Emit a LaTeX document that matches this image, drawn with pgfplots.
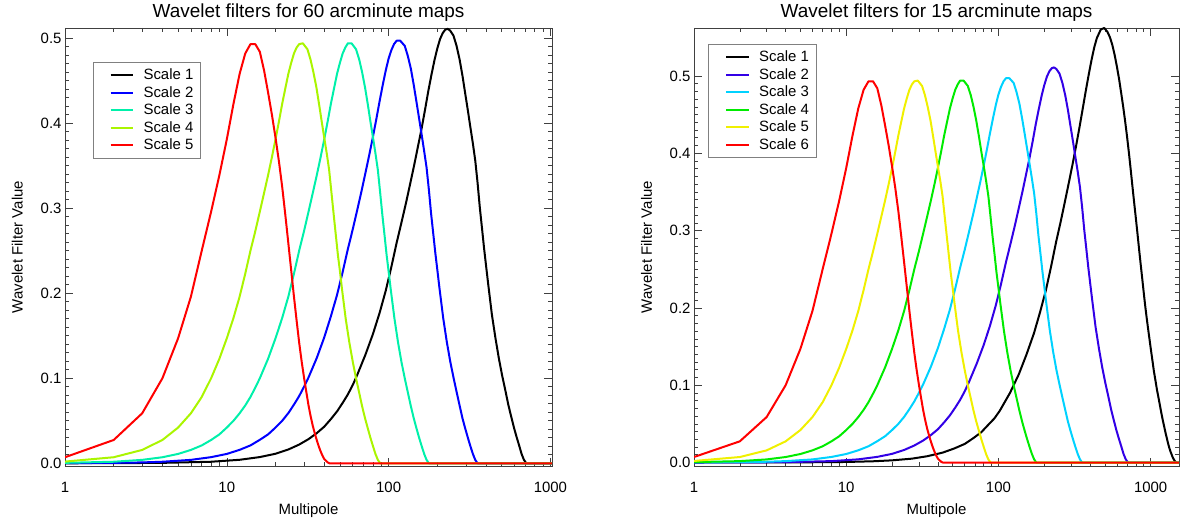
\documentclass[border=0pt]{standalone}
\usepackage{fontspec}
\setmainfont{Liberation Sans}
\usepackage{pgfplots}
\pgfplotsset{compat=1.18}
\definecolor{cthreel}{RGB}{0,240,170}
\definecolor{cfourl}{RGB}{170,245,0}
\definecolor{ctwor}{RGB}{50,0,230}
\definecolor{cthreer}{RGB}{0,210,255}
\definecolor{cfourr}{RGB}{0,235,0}
\definecolor{cfiver}{RGB}{240,240,0}
\begin{document}
\begin{tikzpicture}[x=1bp,y=1bp]
\path[use as bounding box] (0,0) rectangle (1188,524);
\begin{axis}[at={(65bp,58bp)}, anchor=south west,
    scale only axis, width=487bp, height=438bp,
    xmode=log, xmin=1, xmax=1023, ymin=-0.0032, ymax=0.512,
    xtick={1,10,100,1000}, xticklabels={1,10,100,1000},
    minor xtick={2,3,4,5,6,7,8,9,20,30,40,50,60,70,80,90,200,300,400,500,600,700,800,900},
    ytick={0,0.1,0.2,0.3,0.4,0.5}, minor y tick num=9,
    tick align=inside, major tick length=8bp, minor tick length=4bp,
    every tick/.style={black!75, line width=0.6bp},
    axis line style={black!75, line width=0.8bp},
    /pgf/number format/assume math mode=true,
    yticklabel style={/pgf/number format/.cd, fixed, fixed zerofill, precision=1},
    ticklabel style={font=\fontsize{15}{18}\selectfont},
    xticklabel style={anchor=base, yshift=-26.7bp},
    title style={at={(axis description cs:0.5,1)}, anchor=base, yshift=4.6bp, font=\fontsize{19}{22}\selectfont},
    xlabel style={at={(axis description cs:0.5,0)}, anchor=base, yshift=-49bp, font=\fontsize{15}{18}\selectfont},
    ylabel style={at={(axis description cs:-0.087,0.5)}, anchor=base, font=\fontsize{15}{18}\selectfont},
    xlabel={Multipole}, ylabel={Wavelet Filter Value},
    every axis plot/.append style={line width=2bp, line join=round},
    legend cell align=left,
    legend image code/.code={\path (0bp,0bp); \draw[#1, line width=2bp] (11.6bp,0bp) -- (34bp,0bp);},
    legend style={draw=black!50, line width=0.6bp, fill=white,
      font=\fontsize{15}{17}\selectfont, inner xsep=5bp, inner ysep=5bp, row sep=1.5bp,
      nodes={inner ysep=1.5bp, text height=11bp, text depth=2bp},
      /tikz/every odd column/.append style={column sep=7.5bp},
      at={(axis description cs:0.057,0.923)}, anchor=north west},
  title={Wavelet filters for 60 arcminute maps}]
\addplot[black] coordinates {(1,0) (2,0.0001) (4,0.0005) (8,0.0018) (12,0.0041) (16,0.0073) (20,0.0112) (24,0.0162) (28,0.0220) (32,0.0284) (36,0.0355) (40,0.043) (44,0.052) (48,0.061) (52,0.071) (56,0.081) (60,0.092) (64,0.104) (72,0.128) (80,0.152) (88,0.177) (96,0.203) (104,0.231) (112,0.259) (120,0.283) (128,0.306) (136,0.329) (144,0.351) (152,0.373) (160,0.394) (168,0.416) (176,0.438) (184,0.457) (192,0.474) (200,0.488) (208,0.499) (216,0.506) (224,0.510) (232,0.511) (240,0.509) (251.7,0.503) (263,0.491) (274.6,0.475) (286,0.456) (297.4,0.435) (308.9,0.415) (320.3,0.395) (331.8,0.376) (343.2,0.356) (354.6,0.330) (366.1,0.301) (377.5,0.277) (389,0.253) (400.4,0.232) (411.8,0.212) (434.7,0.175) (457.6,0.147) (480.5,0.123) (503.4,0.103) (526.2,0.086) (549.1,0.069) (572,0.055) (594.9,0.042) (617.8,0.031) (640.6,0.021) (663.5,0.011) (686.4,0.004) (709.3,0) (1023,0)};
\addlegendentry{Scale 1}
\addplot[blue] coordinates {(1,0.0001) (2,0.0005) (3,0.0010) (4,0.0018) (6,0.0040) (8,0.0072) (10,0.011) (12,0.0158) (14,0.021) (16,0.0276) (18,0.034) (20,0.042) (22,0.050) (24,0.059) (26,0.069) (28,0.079) (30,0.090) (32,0.101) (36,0.124) (40,0.148) (44,0.173) (48,0.198) (52,0.225) (56,0.252) (60,0.275) (64,0.298) (68,0.320) (72,0.342) (76,0.363) (80,0.384) (84,0.405) (88,0.426) (92,0.445) (96,0.462) (100,0.476) (104,0.486) (108,0.493) (112,0.497) (118,0.497) (125.8,0.491) (131.5,0.479) (137.3,0.464) (143,0.445) (148.7,0.425) (154.5,0.405) (160.2,0.386) (165.9,0.367) (171.6,0.348) (177.3,0.322) (183,0.294) (188.8,0.270) (194.5,0.247) (200.2,0.227) (205.9,0.207) (217.4,0.171) (228.8,0.143) (240.2,0.120) (251.7,0.101) (263.1,0.084) (274.6,0.068) (286,0.053) (297.4,0.041) (308.9,0.030) (320.3,0.020) (331.8,0.011) (343.2,0.004) (354.6,0) (1023,0)};
\addlegendentry{Scale 2}
\addplot[cthreel] coordinates {(1,0.0005) (2,0.0018) (3,0.0040) (4,0.0071) (5,0.011) (6,0.0157) (7,0.021) (8,0.0274) (9,0.034) (10,0.042) (11,0.050) (12,0.0588) (13,0.068) (14,0.078) (15,0.089) (16,0.100) (18,0.123) (20,0.147) (22,0.171) (24,0.196) (26,0.223) (28,0.250) (30,0.273) (32,0.296) (34,0.318) (36,0.339) (38,0.360) (40,0.381) (42,0.402) (44,0.423) (46,0.441) (48,0.458) (50,0.471) (52,0.482) (54,0.489) (56,0.494) (59,0.494) (62.9,0.487) (65.8,0.475) (68.6,0.460) (71.5,0.442) (74.4,0.422) (77.2,0.402) (80.1,0.383) (83,0.364) (85.8,0.345) (88.6,0.319) (91.5,0.292) (94.4,0.268) (97.2,0.245) (100.1,0.225) (103,0.205) (108.7,0.170) (114.4,0.142) (120.1,0.119) (125.8,0.100) (131.6,0.083) (137.3,0.067) (143,0.053) (148.7,0.041) (154.4,0.030) (160.2,0.020) (165.9,0.011) (171.6,0.004) (177.3,0) (1023,0)};
\addlegendentry{Scale 3}
\addplot[cfourl] coordinates {(1,0.0020) (2,0.0071) (3,0.0157) (4,0.0274) (5,0.042) (6,0.0588) (7,0.078) (8,0.100) (9,0.123) (10,0.147) (11,0.171) (12,0.196) (13,0.223) (14,0.250) (15,0.273) (16,0.296) (17,0.318) (18,0.339) (19,0.360) (20,0.381) (21,0.402) (22,0.423) (23,0.441) (24,0.458) (25,0.471) (26,0.482) (27,0.489) (28,0.493) (29.5,0.494) (31.5,0.487) (32.9,0.475) (34.3,0.460) (35.8,0.442) (37.2,0.422) (38.6,0.402) (40.0,0.383) (41.5,0.364) (42.9,0.345) (44.3,0.319) (45.8,0.292) (47.2,0.268) (48.6,0.245) (50.1,0.225) (51.5,0.205) (54.3,0.170) (57.2,0.142) (60.1,0.119) (62.9,0.100) (65.8,0.083) (68.6,0.067) (71.5,0.053) (74.4,0.041) (77.2,0.030) (80.1,0.020) (82.9,0.011) (85.8,0.004) (88.7,0) (1023,0)};
\addlegendentry{Scale 4}
\addplot[red] coordinates {(1,0.0071) (2,0.0274) (3,0.0588) (4,0.100) (5,0.147) (6,0.196) (7,0.250) (8,0.296) (9,0.339) (10,0.381) (11,0.423) (12,0.458) (13,0.482) (14,0.493) (15,0.493) (16,0.484) (17,0.462) (18,0.436) (19,0.410) (20,0.383) (21,0.355) (22,0.325) (23,0.292) (24,0.259) (25,0.227) (26,0.196) (27,0.168) (28,0.142) (29,0.120) (30,0.101) (31,0.084) (32,0.068) (33,0.055) (34,0.044) (35,0.035) (36,0.027) (37,0.020) (38,0.014) (39,0.009) (40,0.005) (41,0.003) (42,0.001) (43,0) (1023,0)};
\addlegendentry{Scale 5}
\end{axis}
\begin{axis}[at={(694bp,58bp)}, anchor=south west,
    scale only axis, width=485bp, height=438bp,
    xmode=log, xmin=1, xmax=1535, ymin=-0.0045, ymax=0.562,
    xtick={1,10,100,1000}, xticklabels={1,10,100,1000},
    minor xtick={2,3,4,5,6,7,8,9,20,30,40,50,60,70,80,90,200,300,400,500,600,700,800,900},
    ytick={0,0.1,0.2,0.3,0.4,0.5}, minor y tick num=9,
    tick align=inside, major tick length=8bp, minor tick length=4bp,
    every tick/.style={black!75, line width=0.6bp},
    axis line style={black!75, line width=0.8bp},
    /pgf/number format/assume math mode=true,
    yticklabel style={/pgf/number format/.cd, fixed, fixed zerofill, precision=1},
    ticklabel style={font=\fontsize{15}{18}\selectfont},
    xticklabel style={anchor=base, yshift=-26.7bp},
    title style={at={(axis description cs:0.5,1)}, anchor=base, yshift=4.6bp, font=\fontsize{19}{22}\selectfont},
    xlabel style={at={(axis description cs:0.5,0)}, anchor=base, yshift=-49bp, font=\fontsize{15}{18}\selectfont},
    ylabel style={at={(axis description cs:-0.087,0.5)}, anchor=base, font=\fontsize{15}{18}\selectfont},
    xlabel={Multipole}, ylabel={Wavelet Filter Value},
    every axis plot/.append style={line width=2bp, line join=round},
    legend cell align=left,
    legend image code/.code={\path (0bp,0bp); \draw[#1, line width=2bp] (11.6bp,0bp) -- (34bp,0bp);},
    legend style={draw=black!50, line width=0.6bp, fill=white,
      font=\fontsize{15}{17}\selectfont, inner xsep=5bp, inner ysep=5bp, row sep=1.5bp,
      nodes={inner ysep=1.5bp, text height=11bp, text depth=2bp},
      /tikz/every odd column/.append style={column sep=7.5bp},
      at={(axis description cs:0.0295,0.9635)}, anchor=north west},
  title={Wavelet filters for 15 arcminute maps}]
\addplot[black] coordinates {(1,0) (5,0.0002) (10,0.0007) (15,0.0016) (20,0.0028) (27,0.0050) (34,0.0081) (43,0.0128) (51,0.018) (60,0.024) (68,0.0312) (77,0.039) (85,0.048) (94,0.057) (102,0.0669) (119,0.090) (136,0.114) (153,0.140) (171,0.167) (188,0.195) (205,0.223) (222,0.254) (239,0.285) (256,0.311) (273,0.337) (290,0.362) (307,0.386) (324,0.410) (341,0.434) (358,0.458) (375,0.481) (392,0.502) (409,0.521) (426,0.537) (443,0.549) (470,0.560) (495,0.562) (520,0.557) (540,0.550) (560,0.540) (580,0.527) (600,0.512) (620,0.496) (640,0.478) (660,0.460) (680,0.441) (700,0.421) (720,0.400) (740,0.378) (760,0.356) (780,0.335) (800,0.315) (820,0.295) (840,0.275) (860,0.256) (880,0.238) (900,0.220) (920,0.203) (940,0.188) (960,0.174) (980,0.161) (1000,0.148) (1025,0.133) (1050,0.118) (1075,0.106) (1100,0.094) (1125,0.084) (1150,0.074) (1175,0.064) (1200,0.055) (1225,0.047) (1250,0.039) (1275,0.032) (1300,0.025) (1325,0.019) (1350,0.014) (1375,0.010) (1400,0.006) (1420,0.004) (1440,0.002) (1460,0.0006) (1480,0) (1535,0)};
\addlegendentry{Scale 1}
\addplot[ctwor] coordinates {(1,0) (2,0.0001) (4,0.0005) (8,0.0018) (12,0.0041) (16,0.0073) (20,0.0112) (24,0.0162) (28,0.0220) (32,0.0284) (36,0.0355) (40,0.043) (44,0.052) (48,0.061) (52,0.071) (56,0.081) (60,0.092) (64,0.104) (72,0.128) (80,0.152) (88,0.177) (96,0.203) (104,0.231) (112,0.259) (120,0.283) (128,0.306) (136,0.329) (144,0.351) (152,0.373) (160,0.394) (168,0.416) (176,0.438) (184,0.457) (192,0.474) (200,0.488) (208,0.499) (216,0.506) (224,0.510) (232,0.511) (240,0.509) (251.7,0.503) (263,0.491) (274.6,0.475) (286,0.456) (297.4,0.435) (308.9,0.415) (320.3,0.395) (331.8,0.376) (343.2,0.356) (354.6,0.330) (366.1,0.301) (377.5,0.277) (389,0.253) (400.4,0.232) (411.8,0.212) (434.7,0.175) (457.6,0.147) (480.5,0.123) (503.4,0.103) (526.2,0.086) (549.1,0.069) (572,0.055) (594.9,0.042) (617.8,0.031) (640.6,0.021) (663.5,0.011) (686.4,0.004) (709.3,0) (1535,0)};
\addlegendentry{Scale 2}
\addplot[cthreer] coordinates {(1,0.0001) (2,0.0005) (3,0.0010) (4,0.0018) (6,0.0040) (8,0.0072) (10,0.011) (12,0.0158) (14,0.021) (16,0.0276) (18,0.034) (20,0.042) (22,0.050) (24,0.059) (26,0.069) (28,0.079) (30,0.090) (32,0.101) (36,0.124) (40,0.148) (44,0.173) (48,0.198) (52,0.225) (56,0.252) (60,0.275) (64,0.298) (68,0.320) (72,0.342) (76,0.363) (80,0.384) (84,0.405) (88,0.426) (92,0.445) (96,0.462) (100,0.476) (104,0.486) (108,0.493) (112,0.497) (118,0.497) (125.8,0.491) (131.5,0.479) (137.3,0.464) (143,0.445) (148.7,0.425) (154.5,0.405) (160.2,0.386) (165.9,0.367) (171.6,0.348) (177.3,0.322) (183,0.294) (188.8,0.270) (194.5,0.247) (200.2,0.227) (205.9,0.207) (217.4,0.171) (228.8,0.143) (240.2,0.120) (251.7,0.101) (263.1,0.084) (274.6,0.068) (286,0.053) (297.4,0.041) (308.9,0.030) (320.3,0.020) (331.8,0.011) (343.2,0.004) (354.6,0) (1535,0)};
\addlegendentry{Scale 3}
\addplot[cfourr] coordinates {(1,0.0005) (2,0.0018) (3,0.0040) (4,0.0071) (5,0.011) (6,0.0157) (7,0.021) (8,0.0274) (9,0.034) (10,0.042) (11,0.050) (12,0.0588) (13,0.068) (14,0.078) (15,0.089) (16,0.100) (18,0.123) (20,0.147) (22,0.171) (24,0.196) (26,0.223) (28,0.250) (30,0.273) (32,0.296) (34,0.318) (36,0.339) (38,0.360) (40,0.381) (42,0.402) (44,0.423) (46,0.441) (48,0.458) (50,0.471) (52,0.482) (54,0.489) (56,0.494) (59,0.494) (62.9,0.487) (65.8,0.475) (68.6,0.460) (71.5,0.442) (74.4,0.422) (77.2,0.402) (80.1,0.383) (83,0.364) (85.8,0.345) (88.6,0.319) (91.5,0.292) (94.4,0.268) (97.2,0.245) (100.1,0.225) (103,0.205) (108.7,0.170) (114.4,0.142) (120.1,0.119) (125.8,0.100) (131.6,0.083) (137.3,0.067) (143,0.053) (148.7,0.041) (154.4,0.030) (160.2,0.020) (165.9,0.011) (171.6,0.004) (177.3,0) (1535,0)};
\addlegendentry{Scale 4}
\addplot[cfiver] coordinates {(1,0.0020) (2,0.0071) (3,0.0157) (4,0.0274) (5,0.042) (6,0.0588) (7,0.078) (8,0.100) (9,0.123) (10,0.147) (11,0.171) (12,0.196) (13,0.223) (14,0.250) (15,0.273) (16,0.296) (17,0.318) (18,0.339) (19,0.360) (20,0.381) (21,0.402) (22,0.423) (23,0.441) (24,0.458) (25,0.471) (26,0.482) (27,0.489) (28,0.493) (29.5,0.494) (31.5,0.487) (32.9,0.475) (34.3,0.460) (35.8,0.442) (37.2,0.422) (38.6,0.402) (40.0,0.383) (41.5,0.364) (42.9,0.345) (44.3,0.319) (45.8,0.292) (47.2,0.268) (48.6,0.245) (50.1,0.225) (51.5,0.205) (54.3,0.170) (57.2,0.142) (60.1,0.119) (62.9,0.100) (65.8,0.083) (68.6,0.067) (71.5,0.053) (74.4,0.041) (77.2,0.030) (80.1,0.020) (82.9,0.011) (85.8,0.004) (88.7,0) (1535,0)};
\addlegendentry{Scale 5}
\addplot[red] coordinates {(1,0.0071) (2,0.0274) (3,0.0588) (4,0.100) (5,0.147) (6,0.196) (7,0.250) (8,0.296) (9,0.339) (10,0.381) (11,0.423) (12,0.458) (13,0.482) (14,0.493) (15,0.493) (16,0.484) (17,0.462) (18,0.436) (19,0.410) (20,0.383) (21,0.355) (22,0.325) (23,0.292) (24,0.259) (25,0.227) (26,0.196) (27,0.168) (28,0.142) (29,0.120) (30,0.101) (31,0.084) (32,0.068) (33,0.055) (34,0.044) (35,0.035) (36,0.027) (37,0.020) (38,0.014) (39,0.009) (40,0.005) (41,0.003) (42,0.001) (43,0) (1535,0)};
\addlegendentry{Scale 6}
\end{axis}
\end{tikzpicture}
\end{document}
